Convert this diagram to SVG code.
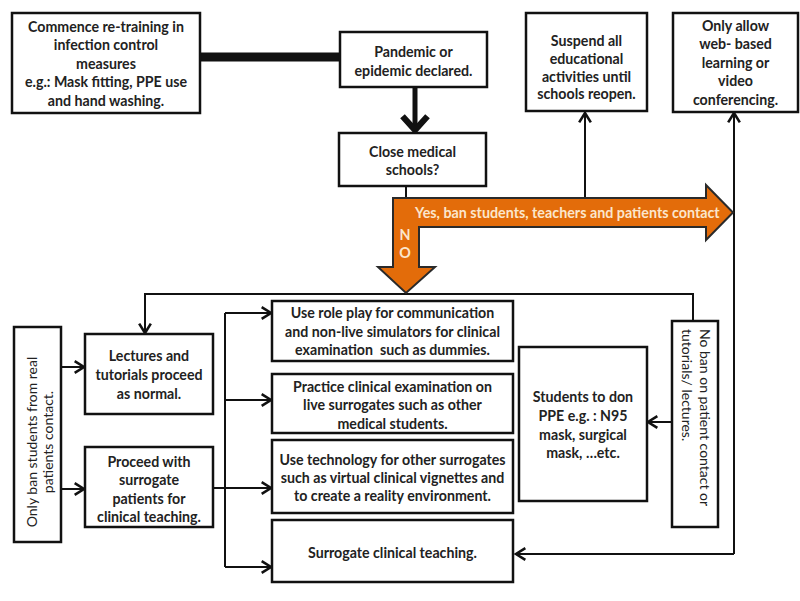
<svg xmlns="http://www.w3.org/2000/svg" width="800" height="601" viewBox="0 0 800 601">
<style>
.box{fill:#fff;stroke:#111;stroke-width:2.5}
.t{font-family:Lato,"Liberation Sans",sans-serif;font-weight:bold;font-size:14.2px;fill:#222;text-anchor:middle}
.r{font-family:Lato,"Liberation Sans",sans-serif;font-size:14px;fill:#222}
.ln{fill:none;stroke:#111;stroke-width:2}
.ot{font-family:Lato,"Liberation Sans",sans-serif;font-weight:bold;font-size:14.3px;fill:#fbe6cc}
</style>
<defs>
<marker id="ah" markerUnits="userSpaceOnUse" markerWidth="14" markerHeight="14" refX="9" refY="6" orient="auto" viewBox="0 0 12 12">
<path d="M1,1 L9,6 L1,11" fill="none" stroke="#111" stroke-width="2.2"/>
</marker>
<marker id="ahb" markerUnits="userSpaceOnUse" markerWidth="30" markerHeight="30" refX="13" refY="12" orient="auto" viewBox="0 0 24 24">
<path d="M2,2 L13,12 L2,22" fill="none" stroke="#111" stroke-width="5"/>
</marker>
</defs>
<rect width="800" height="601" fill="#fff"/>

<g id="connectors">
<line x1="200" y1="57" x2="340" y2="57" stroke="#111" stroke-width="9"/>
<line x1="415" y1="87" x2="415" y2="130" stroke="#111" stroke-width="5" marker-end="url(#ahb)"/>
<line class="ln" x1="406" y1="186" x2="406" y2="198"/>
<line class="ln" x1="585" y1="198" x2="585" y2="113" marker-end="url(#ah)"/>
<polyline class="ln" points="734,554 734,113" marker-end="url(#ah)"/>
<line class="ln" x1="734" y1="554" x2="516" y2="554" marker-end="url(#ah)"/>
<polyline class="ln" points="693,321 693,294 145,294 145,333" marker-end="url(#ah)"/>
<line class="ln" x1="672" y1="422" x2="648" y2="422" marker-end="url(#ah)"/>
<line class="ln" x1="61" y1="367" x2="84" y2="367" marker-end="url(#ah)"/>
<line class="ln" x1="61" y1="489" x2="84" y2="489" marker-end="url(#ah)"/>
<line class="ln" x1="213" y1="488" x2="225" y2="488"/>
<line class="ln" x1="225" y1="313" x2="225" y2="567"/>
<line class="ln" x1="225" y1="313" x2="271" y2="313" marker-end="url(#ah)"/>
<line class="ln" x1="225" y1="400" x2="271" y2="400" marker-end="url(#ah)"/>
<line class="ln" x1="225" y1="488" x2="271" y2="488" marker-end="url(#ah)"/>
<line class="ln" x1="225" y1="567" x2="271" y2="567" marker-end="url(#ah)"/>
</g>

<g id="orange-arrow">
<polygon points="393,198 706,198 706,185 733,212.5 706,240 706,227 419,227 419,267 435,267 406,293 378,267 393,267" fill="#e36c0a" stroke="#2a2a2a" stroke-width="2" stroke-linejoin="miter"/>
<text class="ot" x="415" y="217.5">Yes, ban students, teachers and patients contact</text>
<text class="ot" x="405" y="240" text-anchor="middle">N</text>
<text class="ot" x="405" y="258" text-anchor="middle">O</text>
</g>

<g id="n-retrain">
<rect class="box" x="12" y="13" width="188" height="100"/>
<text class="t" x="106" y="32">Commence re-training in</text>
<text class="t" x="106" y="50">infection control</text>
<text class="t" x="106" y="69">measures</text>
<text class="t" x="106" y="87">e.g.: Mask fitting, PPE use</text>
<text class="t" x="106" y="106">and hand washing.</text>
</g>

<g id="n-pandemic">
<rect class="box" x="340" y="32" width="147" height="55"/>
<text class="t" x="413.5" y="57">Pandemic or</text>
<text class="t" x="413.5" y="76">epidemic declared.</text>
</g>

<g id="n-close">
<rect class="box" x="339" y="133" width="147" height="53"/>
<text class="t" x="412.5" y="157">Close medical</text>
<text class="t" x="412.5" y="175">schools?</text>
</g>

<g id="n-suspend">
<rect class="box" x="526" y="13" width="121" height="98"/>
<text class="t" x="586.5" y="46">Suspend all</text>
<text class="t" x="586.5" y="64">educational</text>
<text class="t" x="586.5" y="82">activities until</text>
<text class="t" x="586.5" y="99">schools reopen.</text>
</g>

<g id="n-web">
<rect class="box" x="673" y="13" width="125" height="99"/>
<text class="t" x="735.5" y="31">Only allow</text>
<text class="t" x="735.5" y="49">web- based</text>
<text class="t" x="735.5" y="68">learning or</text>
<text class="t" x="735.5" y="86">video</text>
<text class="t" x="735.5" y="105">conferencing.</text>
</g>

<g id="n-onlyban">
<rect class="box" x="14" y="327" width="47" height="215"/>
<text class="r" text-anchor="middle" transform="translate(37,442) rotate(-90)">Only ban students from real</text>
<text class="r" text-anchor="middle" transform="translate(53,442) rotate(-90)">patients contact.</text>
</g>

<g id="n-lectures">
<rect class="box" x="85" y="334" width="128" height="80"/>
<text class="t" x="149" y="361">Lectures and</text>
<text class="t" x="149" y="380">tutorials proceed</text>
<text class="t" x="149" y="399">as normal.</text>
</g>

<g id="n-proceed">
<rect class="box" x="85" y="447" width="128" height="80"/>
<text class="t" x="149" y="467">Proceed with</text>
<text class="t" x="149" y="485">surrogate</text>
<text class="t" x="149" y="504">patients for</text>
<text class="t" x="149" y="522">clinical teaching.</text>
</g>

<g id="n-roleplay">
<rect class="box" x="272" y="301" width="241" height="60"/>
<text class="t" x="392.5" y="318">Use role play for communication</text>
<text class="t" x="392.5" y="337">and non-live simulators for clinical</text>
<text class="t" x="392.5" y="355" style="white-space:pre">examination  such as dummies.</text>
</g>

<g id="n-practice">
<rect class="box" x="272" y="374" width="241" height="59"/>
<text class="t" x="392.5" y="392">Practice clinical examination on</text>
<text class="t" x="392.5" y="410">live surrogates such as other</text>
<text class="t" x="392.5" y="429">medical students.</text>
</g>

<g id="n-technology">
<rect class="box" x="272" y="440" width="241" height="73"/>
<text class="t" x="392.5" y="465">Use technology for other surrogates</text>
<text class="t" x="392.5" y="483">such as virtual clinical vignettes and</text>
<text class="t" x="392.5" y="501">to create a reality environment.</text>
</g>

<g id="n-surrogate">
<rect class="box" x="272" y="520" width="241" height="62"/>
<text class="t" x="392.5" y="558">Surrogate clinical teaching.</text>
</g>

<g id="n-students">
<rect class="box" x="519" y="347" width="128" height="154"/>
<text class="t" x="583" y="402">Students to don</text>
<text class="t" x="583" y="421">PPE e.g. : N95</text>
<text class="t" x="583" y="440">mask, surgical</text>
<text class="t" x="583" y="458">mask, …etc.</text>
</g>

<g id="n-noban">
<rect class="box" x="672" y="321" width="46" height="206"/>
<text class="r" transform="translate(700,329) rotate(90)">No ban on patient contact or</text>
<text class="r" transform="translate(682,329) rotate(90)">tutorials/ lectures.</text>
</g>
</svg>
